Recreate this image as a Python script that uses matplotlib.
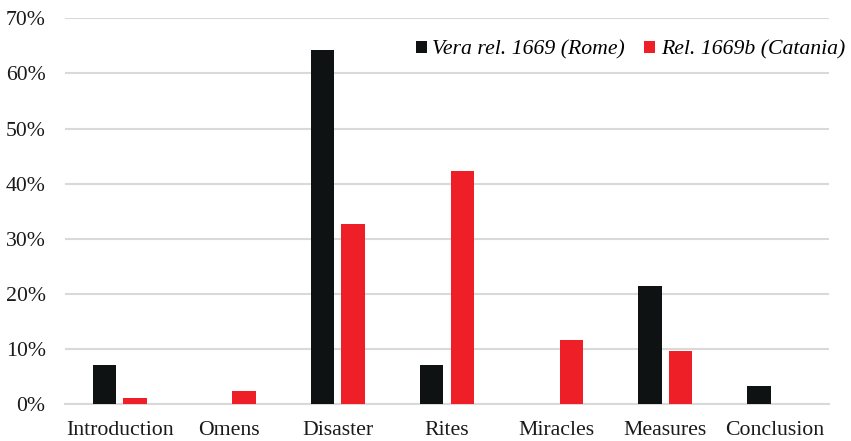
import matplotlib
matplotlib.use("Agg")
import matplotlib.pyplot as plt
import numpy as np
from matplotlib.ticker import MultipleLocator, FuncFormatter

categories = ["Introduction", "Omens", "Disaster", "Rites", "Miracles", "Measures", "Conclusion"]
rome = [7.1, 0.0, 64.3, 7.0, 0.0, 21.4, 3.3]
catania = [1.0, 2.4, 32.7, 42.3, 11.6, 9.6, 0.0]
series_labels = ["Vera rel. 1669 (Rome)", "Rel. 1669b (Catania)"]
colors = ["#0f1213", "#ee1f26"]

plt.rcParams["font.family"] = ["Liberation Serif", "DejaVu Serif"]

fig = plt.figure(figsize=(8.51, 4.41), dpi=100)
ax = fig.add_axes([65 / 851, 1 - 404 / 441, (829 - 65) / 851, (404 - 18.3) / 441])

x = np.arange(len(categories))
w = 0.215
gap = 0.065
ax.bar(x - (w + gap) / 2, rome, w, color=colors[0], label=series_labels[0], zorder=3)
ax.bar(x + (w + gap) / 2, catania, w, color=colors[1], label=series_labels[1], zorder=3)

ax.set_xlim(-0.5, len(categories) - 0.5)
ax.set_ylim(0, 70)
ax.yaxis.set_major_locator(MultipleLocator(10))
ax.yaxis.set_major_formatter(FuncFormatter(lambda v, p: f"{int(round(v))}%"))
ax.grid(axis="y", color="#d9d9d9", linewidth=1.5, zorder=0)
ax.set_axisbelow(True)
for s in ["top", "right", "left"]:
    ax.spines[s].set_visible(False)
ax.spines["bottom"].set_color("#d9d9d9")
ax.spines["bottom"].set_linewidth(1.5)
ax.tick_params(axis="both", length=0, labelsize=15.7, colors="#1a1a1a")
ax.tick_params(axis="y", pad=14)
ax.tick_params(axis="x", pad=12)
ax.set_xticks(x)
ax.set_xticklabels(categories)

leg = fig.legend(loc="center right", bbox_to_anchor=(845 / 851, 1 - 50 / 441), ncol=2,
                 frameon=False, prop={"style": "italic", "size": 15.7},
                 borderaxespad=0, borderpad=0,
                 handlelength=0.5, handleheight=0.5, handletextpad=0.25, columnspacing=0.9)

fig.savefig("out.png", dpi=100)
